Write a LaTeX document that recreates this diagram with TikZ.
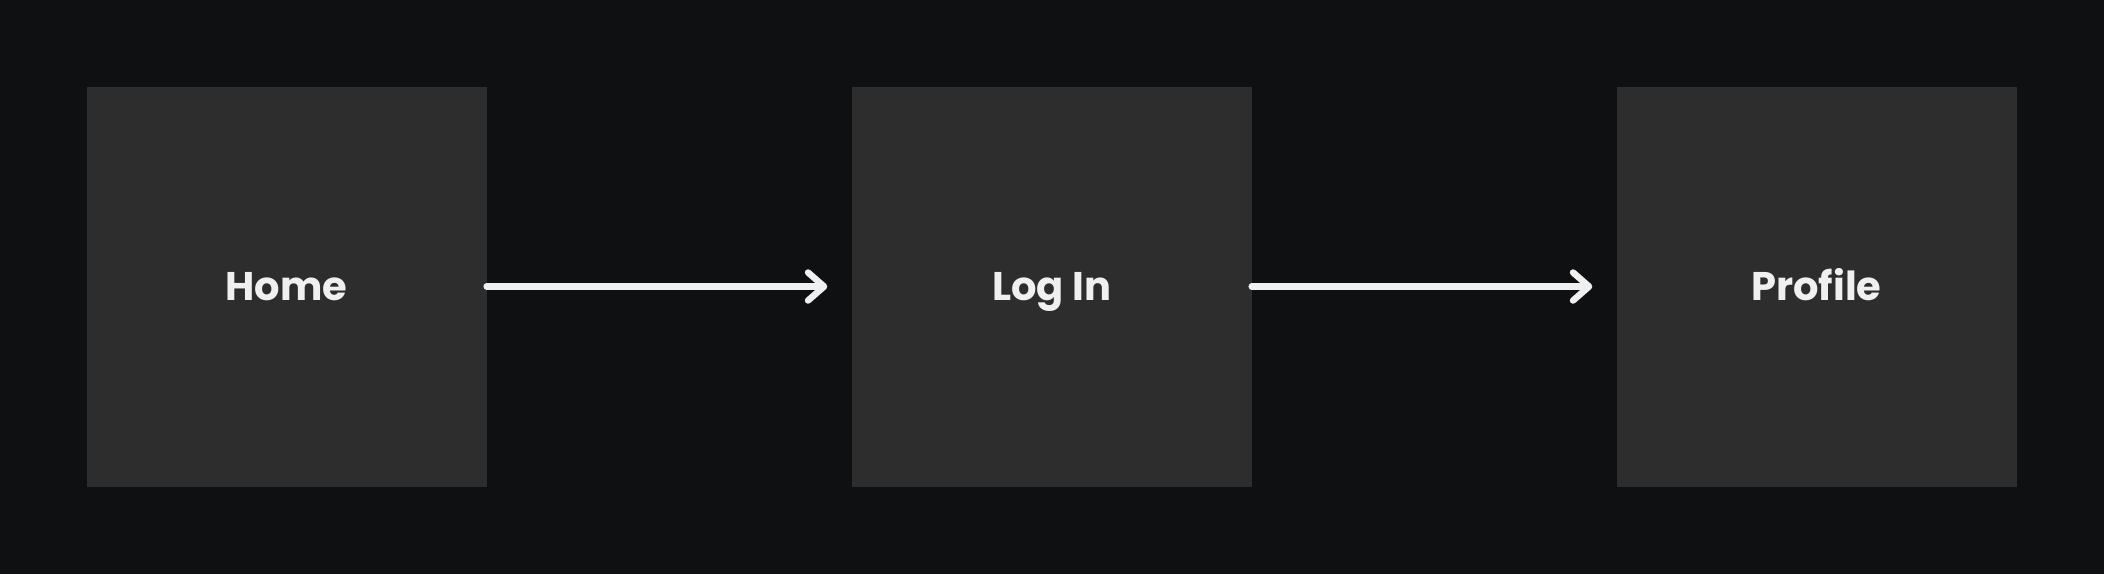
\documentclass[tikz,border=0pt]{standalone}
\usepackage{fontspec}
\setmainfont{Poppins}
\usetikzlibrary{arrows.meta}
\definecolor{bgcol}{HTML}{0F1012}
\definecolor{boxcol}{HTML}{2D2D2D}
\definecolor{inkcol}{HTML}{F0F0F0}
\begin{document}
\begin{tikzpicture}[x=1pt,y=-1pt,
  screen/.style={fill=boxcol, draw=none, minimum width=400pt, minimum height=400pt,
    inner sep=0pt, text=inkcol, text height=32pt, text depth=5pt,
    font=\fontsize{40}{48}\selectfont\bfseries},
  flow/.style={draw=inkcol, line width=6.5pt, line cap=round,
    -{Straight Barb[length=16pt, width=28pt, line width=6.5pt, round]}}]
\fill[bgcol] (0,0) rectangle (2104,574);
\useasboundingbox (0,0) rectangle (2104,574);
\node[screen] (home) at (286.5,286.5) {Home};
\node[screen] (login) at (1051.5,286.5) {Log In};
\node[screen] (profile) at (1816.5,286.5) {Profile};
\draw[flow] (home.east) -- ([xshift=-24pt]login.west);
\draw[flow] (login.east) -- ([xshift=-24pt]profile.west);
\end{tikzpicture}
\end{document}
